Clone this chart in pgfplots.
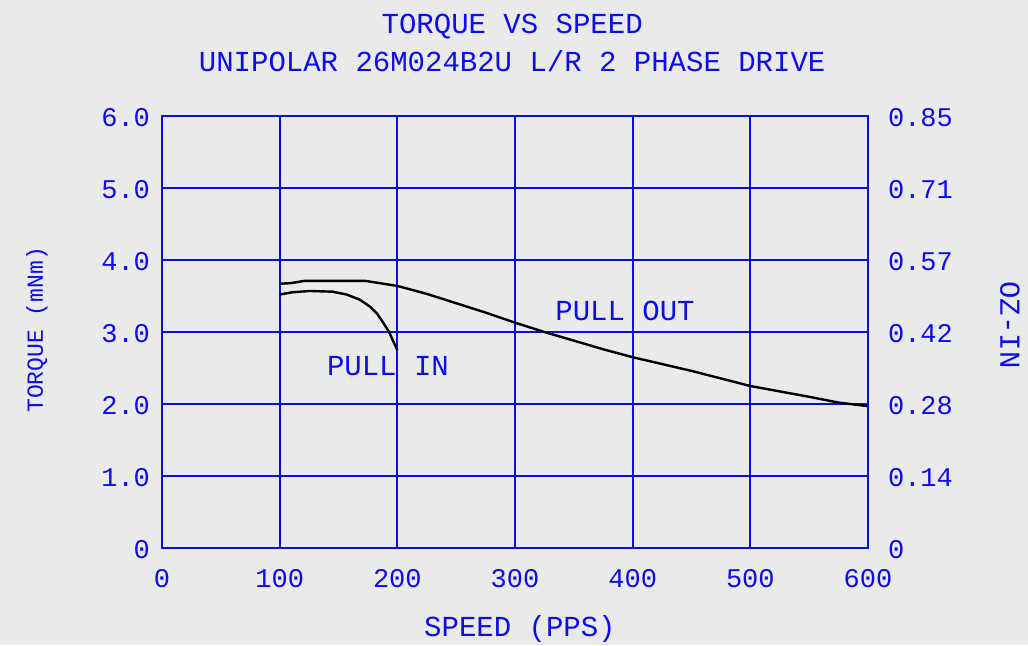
\documentclass[border=0pt]{standalone}
\usepackage{fontspec}
\setmainfont{Liberation Mono}
\usepackage{pgfplots}
\pgfplotsset{compat=1.18}
\definecolor{bg}{RGB}{234,234,234}
\definecolor{gblue}{RGB}{12,12,240}

\begin{document}
\begin{tikzpicture}[x=1pt,y=1pt]
\path[use as bounding box, fill=bg] (-81,-48.5) rectangle (433,274);
\begin{axis}[
  scale only axis, width=353pt, height=216pt,
  xmin=0, xmax=600, ymin=0, ymax=6,
  xtick={0,100,...,600}, ytick={0,1,...,6},
  xticklabels={0,100,200,300,400,500,600},
  yticklabels={0,1.0,2.0,3.0,4.0,5.0,6.0},
  xtick pos=bottom, ytick pos=left,
  major tick length=0pt,
  grid=major, major grid style={gblue, line width=1pt},
  axis line style={gblue, line width=1pt},
  tick label style={gblue, font=\fontsize{13.5}{14}\selectfont},
  xticklabel style={anchor=center, yshift=-15.5pt},
  yticklabel style={anchor=east, xshift=-2.5pt, yshift=-1pt},
  title={TORQUE VS SPEED\\UNIPOLAR 26M024B2U L/R 2 PHASE DRIVE},
  title style={at={(axis description cs:0.496,1.142)}, anchor=center,
    align=center, gblue, font=\fontsize{14.5}{18.8}\selectfont},
  xlabel={SPEED (PPS)},
  xlabel style={at={(axis description cs:0.507,-0.1875)}, anchor=center,
    gblue, font=\fontsize{14.5}{16}\selectfont},
  ylabel={TORQUE (mNm)},
  ylabel style={at={(axis description cs:-0.177,0.505)}, anchor=center,
    gblue, font=\fontsize{11.5}{12}\selectfont},
]
% pull out
\addplot[black, line width=1.2pt] coordinates {
  (100,3.67) (110,3.68) (121,3.71) (150,3.71) (173,3.71) (200,3.64)
  (225,3.53) (250,3.40) (275,3.27) (300,3.13) (325,3.00) (350,2.88)
  (375,2.76) (400,2.65) (450,2.46) (500,2.25) (550,2.10) (575,2.02) (600,1.97)};
% pull in
\addplot[black, line width=1.2pt] coordinates {
  (100,3.52) (110,3.55) (125,3.57) (145,3.56) (157,3.52) (168,3.45)
  (177,3.35) (183,3.25) (188,3.13) (193,3.00) (196,2.89) (200,2.75)};
\node[gblue, font=\fontsize{14.5}{16}\selectfont] at (axis cs:192,2.53) {PULL IN};
\node[gblue, font=\fontsize{14.5}{16}\selectfont] at (axis cs:393.5,3.29) {PULL OUT};
\end{axis}
\begin{axis}[
  scale only axis, width=353pt, height=216pt,
  xmin=0, xmax=600, ymin=0, ymax=6,
  axis x line=none, axis y line*=right,
  ytick={0,1,...,6},
  yticklabels={0,0.14,0.28,0.42,0.57,0.71,0.85},
  major tick length=0pt,
  axis line style={gblue, line width=1pt},
  tick label style={gblue, font=\fontsize{13.5}{14}\selectfont},
  yticklabel style={anchor=west, xshift=6.5pt, yshift=-1pt},
  ylabel={OZ-IN},
  ylabel style={at={(axis description cs:1.201,0.516)}, anchor=center,
    rotate=180, gblue, font=\fontsize{14.5}{16}\selectfont},
]
\end{axis}
\end{tikzpicture}
\end{document}
